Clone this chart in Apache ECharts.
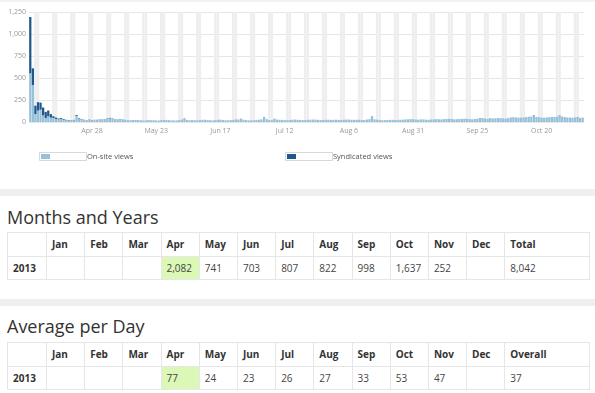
<!DOCTYPE html>
<html>
<head>
<meta charset="utf-8">
<script src="https://cdn.jsdelivr.net/npm/echarts@6/dist/echarts.min.js"></script>
<style>
  html, body { margin:0; padding:0; background:#fff; width:595px; height:393px; overflow:hidden; font-family:"Open Sans", sans-serif; }
  #topline { position:absolute; left:0; top:0; width:595px; height:2px; background:#f2f2f2; }
  #chart { position:absolute; left:0; top:0; width:595px; height:190px; }
  .sep { position:absolute; left:0; width:595px; height:7px; background:#efefef; }
  h2 { position:absolute; left:7px; margin:0; font-weight:400; font-size:18px; color:#333; line-height:1; }
  table { position:absolute; left:7px; width:583px; border-collapse:collapse; table-layout:fixed; font-size:10px; color:#444; }
  td, th { border:1px solid #e6e6e6; padding:0 0 0 5px; height:22.5px; text-align:left; white-space:nowrap; overflow:hidden; }
  th { font-weight:700; color:#333; }
  td.yr { font-weight:700; color:#333; }
  td.hl { background:#dbf8b6; }
</style>
</head>
<body>
<div id="topline"></div>
<div id="chart"></div>
<div class="sep" style="top:189px"></div>
<h2 style="top:208px">Months and Years</h2>
<table id="t1" style="top:232px"></table>
<div class="sep" style="top:299px"></div>
<h2 style="top:317px">Average per Day</h2>
<table id="t2" style="top:342px"></table>
<script>
// ---- Daily views (Apr 4 – Nov 5, 2013) ----
const onsiteApr = [553,420,90,130,140,75,45,65,50,45,35,30,35,25,20,18,16,20,70,40,30,22,18,25,20,23,22];
const onsiteMay = [24,26,30,40,42,36,30,28,30,30,26,20,18,22,24,22,19,16,18,22,20,21,18,17,20,22,24,21,19,18,18];
const onsiteJun = [22,28,40,24,20,22,19,18,21,24,26,22,20,18,21,25,27,23,20,19,22,24,30,28,35,26,22,18,20,19];
const onsiteJul = [24,26,30,52,32,22,20,39,28,25,24,22,20,23,26,28,25,24,22,21,24,26,28,27,25,23,22,24,26,25,24];
const onsiteAug = [26,24,22,25,28,27,25,24,26,25,22,23,28,32,57,30,26,22,20,21,23,24,25,22,20,25,26,29,31,33,31];
const onsiteSep = [28,26,30,29,27,25,28,30,32,31,29,33,35,36,34,30,32,34,36,38,35,33,31,34,37,40,46,38,36,45];
const onsiteOct = [40,42,44,46,40,38,44,52,55,52,50,50,52,56,60,62,72,58,54,50,48,52,55,58,56,61,70,62,56,52,50];
const onsiteNov = [48,52,55,47,50];

const syndApr = [640,190,95,95,80,90,70,65,40,20,15,10,10,8,5,5,3,4,10,6,4,3,2,3,2,2,3];
const syndMay = [4,3,2,3,5,4,2,2,3,1,0,0,2,1,0,0,1,0,0,1,0,0,0,0,1,0,0,0,0,0,0];
const syndJun = [0,0,2,0,0,0,1,0,0,0,0,0,0,0,0,0,0,0,0,0,0,0,0,0,2,0,0,0,0,0];
const syndJul = [0,0,0,3,0,0,0,0,0,0,0,0,0,0,0,0,0,0,0,0,0,0,0,0,0,0,0,0,0,0,0];
const syndAug = [0,0,0,0,0,0,0,0,0,0,0,0,0,0,4,0,0,0,0,0,0,0,0,0,0,0,0,0,0,0,0];
const syndSep = [0,0,0,0,0,0,0,0,0,0,0,0,0,0,0,0,0,0,0,0,0,0,0,0,0,3,0,0,0,0];
const syndOct = [0,0,0,0,0,0,0,0,0,0,0,0,0,0,0,0,4,0,0,0,0,0,0,0,0,0,3,0,0,0,0];
const syndNov = [0,0,2,0,0];

const yTicks = [0,250,500,750,1000,1250];

// ---- Tables ----
const tableMonths = ['Jan','Feb','Mar','Apr','May','Jun','Jul','Aug','Sep','Oct','Nov','Dec'];
const tableYear = '2013';
const monthlyViews = [null,null,null,2082,741,703,807,822,998,1637,252,null];
const monthlyTotal = 8042;
const dailyAverage = [null,null,null,77,24,23,26,27,33,53,47,null];
const overallAverage = 37;
const highlightMonth = 'Apr';

const onsite = [].concat(onsiteApr,onsiteMay,onsiteJun,onsiteJul,onsiteAug,onsiteSep,onsiteOct,onsiteNov);
const synd = [].concat(syndApr,syndMay,syndJun,syndJul,syndAug,syndSep,syndOct,syndNov);

const mNames = ['Jan','Feb','Mar','Apr','May','Jun','Jul','Aug','Sep','Oct','Nov','Dec'];
const dates = [], weekend = [];
for (let i = 0; i < onsite.length; i++) {
  const d = new Date(Date.UTC(2013, 3, 4 + i));
  dates.push(mNames[d.getUTCMonth()] + ' ' + d.getUTCDate());
  const wd = d.getUTCDay();
  weekend.push(wd === 0 || wd === 6 ? yTicks[yTicks.length-1] : '-');
}

const chart = echarts.init(document.getElementById('chart'), null, {renderer:'canvas'});
chart.setOption({
  animation:false,
  grid:{left:29, right:11, top:12, bottom:68},
  xAxis:[
    {type:'category', data:dates, axisLine:{show:false}, axisTick:{show:false},
     axisLabel:{interval:function(i){ return i>=24 && (i-24)%25===0; }, fontSize:7, color:'#999', margin:5, fontFamily:'Open Sans'}},
    {type:'category', data:dates, show:false}
  ],
  yAxis:{type:'value', min:yTicks[0], max:yTicks[yTicks.length-1], interval:250,
    axisLabel:{formatter:function(v){ return v.toLocaleString('en-US'); }, fontSize:7, color:'#999', margin:3, fontFamily:'Open Sans'},
    splitLine:{lineStyle:{color:'#e6e6e6', width:1}}},
  series:[
    {name:'weekend', type:'bar', xAxisIndex:1, data:weekend, barWidth:'100%', barCategoryGap:0, silent:true, z:0,
     itemStyle:{color:'#eeeeee'}},
    {name:'On-site views', type:'bar', stack:'views', data:onsite, barCategoryGap:'12%', z:2,
     itemStyle:{color:'#97c0da'}},
    {name:'Syndicated views', type:'bar', stack:'views', data:synd, z:2,
     itemStyle:{color:'#21588c'}}
  ],
  graphic:[
    {type:'rect', shape:{x:39.5, y:152.5, width:47, height:8}, style:{fill:'#fff', stroke:'#d8d8d8', lineWidth:1}},
    {type:'rect', shape:{x:41, y:154, width:9, height:5}, style:{fill:'#97c0da'}},
    {type:'text', x:87, y:157, style:{text:'On-site views', fontSize:7.5, fill:'#555', fontFamily:'Open Sans', verticalAlign:'middle'}},
    {type:'rect', shape:{x:285.5, y:152.5, width:47, height:8}, style:{fill:'#fff', stroke:'#d8d8d8', lineWidth:1}},
    {type:'rect', shape:{x:287, y:154, width:9, height:5}, style:{fill:'#21588c'}},
    {type:'text', x:333, y:157, style:{text:'Syndicated views', fontSize:7.5, fill:'#555', fontFamily:'Open Sans', verticalAlign:'middle'}}
  ]
});

function fmt(v){ return v == null ? '' : v.toLocaleString('en-US'); }
function buildTable(id, values, lastLabel, lastValue){
  const t = document.getElementById(id);
  let cols = '<colgroup><col style="width:39px">';
  tableMonths.forEach(function(){ cols += '<col style="width:38.2px">'; });
  cols += '<col></colgroup>';
  let head = '<tr><th></th>';
  tableMonths.forEach(function(m){ head += '<th>' + m + '</th>'; });
  head += '<th>' + lastLabel + '</th></tr>';
  let row = '<tr><td class="yr">' + tableYear + '</td>';
  tableMonths.forEach(function(m, i){
    row += '<td' + (m === highlightMonth ? ' class="hl"' : '') + '>' + fmt(values[i]) + '</td>';
  });
  row += '<td>' + fmt(lastValue) + '</td></tr>';
  t.innerHTML = cols + head + row;
}
buildTable('t1', monthlyViews, 'Total', monthlyTotal);
buildTable('t2', dailyAverage, 'Overall', overallAverage);
</script>
</body>
</html>
